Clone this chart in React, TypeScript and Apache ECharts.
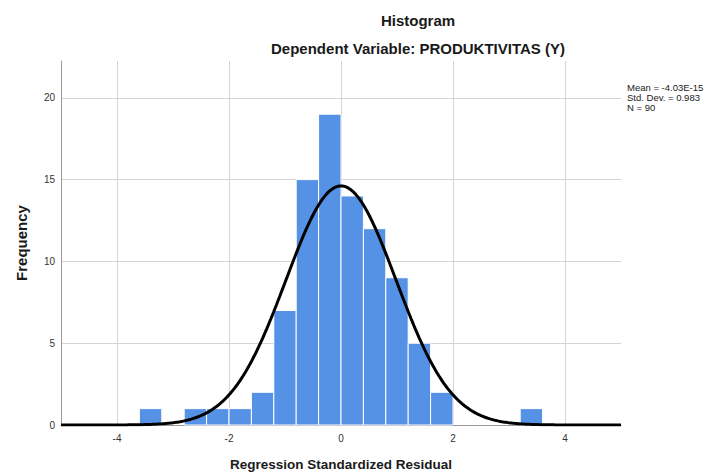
import React, { useEffect, useRef } from "react";
import * as echarts from "echarts";

// Histogram bins (lower edge, width) and frequencies
const binLower = [-3.6, -2.8, -2.4, -2.0, -1.6, -1.2, -0.8, -0.4, 0.0, 0.4, 0.8, 1.2, 1.6, 3.2];
const binCounts = [1, 1, 1, 1, 2, 7, 15, 19, 14, 12, 9, 5, 2, 1];
const BIN_WIDTH = 0.4;

// Axis ticks
const xTicks = [-4, -2, 0, 2, 4];
const yTicks = [0, 5, 10, 15, 20];

// Summary statistics shown on the chart
const MEAN = -4.03e-15;
const MEAN_LABEL = "-4.03E-15";
const STD = 0.983;
const N = 90;

const TITLE = "Histogram";
const SUBTITLE = "Dependent Variable: PRODUKTIVITAS (Y)";
const X_NAME = "Regression Standardized Residual";
const Y_NAME = "Frequency";

const FONT = "'Liberation Sans', Arial, sans-serif";

// fitted normal curve (scaled to counts) from the displayed mean / sd / N
const curveData: number[][] = [];
for (let i = 0; i <= 400; i++) {
  const x = -5 + i * 0.025;
  const z = (x - MEAN) / STD;
  const y = (N * BIN_WIDTH) / (STD * Math.sqrt(2 * Math.PI)) * Math.exp(-0.5 * z * z);
  curveData.push([x, y]);
}

const barData = binLower.map((lo, i) => [lo, lo + BIN_WIDTH, binCounts[i]]);

export default function App() {
  const ref = useRef<HTMLDivElement>(null);
  useEffect(() => {
    if (!ref.current) return;
    const chart = echarts.init(ref.current, null, { renderer: "svg" });
    chart.setOption({
      animation: false,
      backgroundColor: "#ffffff",
      title: [
        {
          text: TITLE,
          left: 413,
          top: 8,
          textAlign: "center",
          textStyle: { fontFamily: FONT, fontSize: 15, fontWeight: "bold", color: "#1a1a1a" },
        },
        {
          text: SUBTITLE,
          left: 413,
          top: 36,
          textAlign: "center",
          textStyle: { fontFamily: FONT, fontSize: 15, fontWeight: "bold", color: "#1a1a1a" },
        },
      ],
      grid: { left: 61, right: 91, top: 61, bottom: 48, containLabel: false, outerBoundsMode: "none" },
      xAxis: {
        type: "value",
        min: -5,
        max: 5,
        name: X_NAME,
        nameLocation: "middle",
        nameGap: 32,
        nameTextStyle: { fontFamily: FONT, fontSize: 13.5, fontWeight: "bold", color: "#1a1a1a" },
        axisLine: { show: true, onZero: false, lineStyle: { color: "#9a9a9a", width: 1 } },
        axisTick: { show: false, customValues: xTicks },
        axisLabel: { customValues: xTicks, fontFamily: FONT, fontSize: 10, color: "#333", margin: 8 },
        splitLine: { show: true, lineStyle: { color: "#d4d4d4", width: 1 } },
      },
      yAxis: {
        type: "value",
        min: 0,
        max: 22.25,
        name: Y_NAME,
        nameLocation: "middle",
        nameGap: 32,
        nameRotate: 90,
        nameTextStyle: { fontFamily: FONT, fontSize: 15, fontWeight: "bold", color: "#1a1a1a" },
        axisLine: { show: true, onZero: false, lineStyle: { color: "#9a9a9a", width: 1 } },
        axisTick: { show: false, customValues: yTicks },
        axisLabel: { customValues: yTicks, fontFamily: FONT, fontSize: 10, color: "#333", margin: 6 },
        splitLine: { show: true, lineStyle: { color: "#d4d4d4", width: 1 } },
      },
      graphic: [
        {
          type: "text",
          left: 627,
          top: 82,
          style: {
            text: `Mean = ${MEAN_LABEL}\nStd. Dev. = ${STD}\nN = ${N}`,
            fontFamily: FONT,
            fontSize: 9.5,
            lineHeight: 10,
            fill: "#222",
          },
        },
      ],
      series: [
        {
          type: "custom",
          data: barData,
          encode: { x: [0, 1], y: 2 },
          renderItem: (params: any, api: any) => {
            const lo = api.value(0);
            const hi = api.value(1);
            const c = api.value(2);
            const p0 = api.coord([lo, 0]);
            const p1 = api.coord([hi, c]);
            return {
              type: "rect",
              shape: { x: p0[0], y: p1[1], width: p1[0] - p0[0], height: p0[1] - p1[1] },
              style: { fill: "#5592e6", stroke: "#ffffff", lineWidth: 1 },
            };
          },
          z: 2,
        },
        {
          type: "line",
          data: curveData,
          showSymbol: false,
          symbol: "none",
          smooth: false,
          lineStyle: { color: "#000", width: 3 },
          z: 3,
        },
      ],
    });
    return () => chart.dispose();
  }, []);
  return (
    <div
      ref={ref}
      style={{ position: "absolute", left: 0, top: 0, width: 712, height: 473 }}
    />
  );
}
